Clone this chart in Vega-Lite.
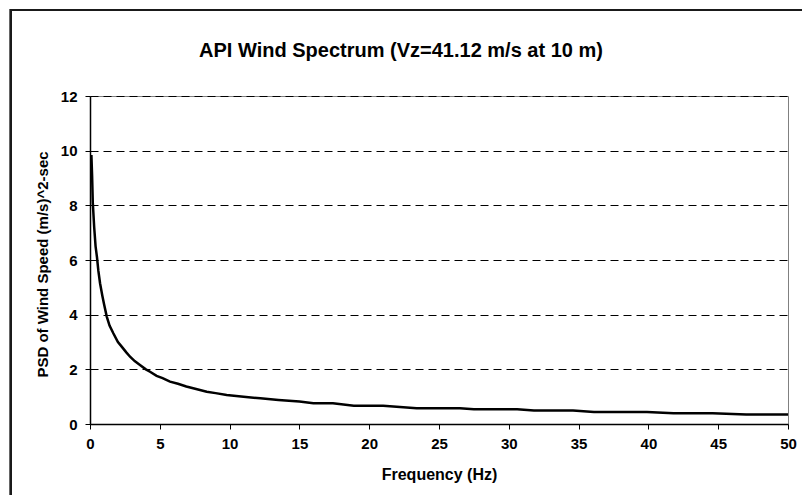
{
  "$schema": "https://vega.github.io/schema/vega-lite/v6.json",
  "autosize": {"type": "none"},
  "width": 698,
  "height": 328,
  "padding": {"left": 90, "top": 96, "right": 14, "bottom": 71},
  "background": "white",
  "config": {
    "font": "Liberation Sans",
    "view": {"stroke": "#808080", "strokeWidth": 1}
  },
  "title": {
    "text": "API Wind Spectrum (Vz=41.12 m/s at 10 m)",
    "font": "Liberation Sans",
    "fontSize": 20,
    "fontWeight": "bold",
    "color": "#000",
    "anchor": "middle",
    "frame": "group",
    "baseline": "bottom",
    "offset": -72,
    "dx": -38
  },
  "data": {
    "values": [
      {"f": 0.1, "psd": 9.84}, {"f": 0.15, "psd": 9.1}, {"f": 0.2, "psd": 8.1},
      {"f": 0.3, "psd": 7.2}, {"f": 0.4, "psd": 6.5}, {"f": 0.5, "psd": 6.1},
      {"f": 0.6, "psd": 5.6}, {"f": 0.72, "psd": 5.15}, {"f": 0.88, "psd": 4.7},
      {"f": 1.0, "psd": 4.4}, {"f": 1.2, "psd": 3.93}, {"f": 1.4, "psd": 3.6},
      {"f": 1.67, "psd": 3.32}, {"f": 2.0, "psd": 3.0}, {"f": 2.27, "psd": 2.83},
      {"f": 2.6, "psd": 2.62}, {"f": 2.87, "psd": 2.46}, {"f": 3.2, "psd": 2.3},
      {"f": 3.58, "psd": 2.16}, {"f": 4.0, "psd": 2.0}, {"f": 4.3, "psd": 1.91},
      {"f": 4.77, "psd": 1.76}, {"f": 5.2, "psd": 1.68}, {"f": 5.73, "psd": 1.55},
      {"f": 6.3, "psd": 1.47}, {"f": 6.9, "psd": 1.37}, {"f": 7.6, "psd": 1.28},
      {"f": 8.36, "psd": 1.18}, {"f": 9.0, "psd": 1.13}, {"f": 9.79, "psd": 1.06},
      {"f": 11.0, "psd": 1.0}, {"f": 12.2, "psd": 0.94}, {"f": 13.5, "psd": 0.88},
      {"f": 15.0, "psd": 0.82}, {"f": 16.0, "psd": 0.76}, {"f": 17.4, "psd": 0.76},
      {"f": 18.9, "psd": 0.67}, {"f": 21.0, "psd": 0.67}, {"f": 23.4, "psd": 0.58},
      {"f": 26.5, "psd": 0.58}, {"f": 27.5, "psd": 0.54}, {"f": 30.6, "psd": 0.54},
      {"f": 31.8, "psd": 0.49}, {"f": 34.6, "psd": 0.49}, {"f": 36.1, "psd": 0.44},
      {"f": 39.9, "psd": 0.44}, {"f": 41.8, "psd": 0.39}, {"f": 44.6, "psd": 0.39},
      {"f": 47.0, "psd": 0.35}, {"f": 50.0, "psd": 0.35}
    ]
  },
  "layer": [
    {
      "mark": {"type": "rect", "fill": null, "stroke": "#1a1a1a", "strokeWidth": 2, "clip": false},
      "encoding": {
        "x": {"datum": -5.66, "type": "quantitative", "scale": {"domain": [0, 50], "nice": false}},
        "x2": {"datum": 51.5},
        "y": {"datum": 15.15, "type": "quantitative", "scale": {"domain": [0, 12], "nice": false}},
        "y2": {"datum": -3}
      }
    },
    {
      "mark": {"type": "line", "color": "#000", "strokeWidth": 2.5, "interpolate": "linear"},
      "encoding": {
        "x": {
          "field": "f",
          "type": "quantitative",
          "scale": {"domain": [0, 50], "nice": false, "zero": false},
          "axis": {
            "title": "Frequency (Hz)",
            "values": [0, 5, 10, 15, 20, 25, 30, 35, 40, 45, 50],
            "grid": false,
            "domainColor": "#000",
            "domainWidth": 1.5,
            "tickColor": "#000",
            "tickSize": 5,
            "tickWidth": 1,
            "labelFont": "Liberation Sans",
            "labelFontSize": 15,
            "labelFontWeight": "bold",
            "labelColor": "#000",
            "labelPadding": 7,
            "labelFlush": false,
            "titleFont": "Liberation Sans",
            "titleFontSize": 16,
            "titleFontWeight": "bold",
            "titleColor": "#000",
            "titleBaseline": "middle",
            "titleY": 50
          }
        },
        "y": {
          "field": "psd",
          "type": "quantitative",
          "scale": {"domain": [0, 12], "nice": false},
          "axis": {
            "title": "PSD of Wind Speed (m/s)^2-sec",
            "values": [0, 2, 4, 6, 8, 10, 12],
            "grid": true,
            "gridColor": "#000",
            "gridDash": [8, 5],
            "gridWidth": 1,
            "domainColor": "#000",
            "domainWidth": 1.5,
            "tickColor": "#000",
            "tickSize": 5,
            "tickWidth": 1,
            "labelFont": "Liberation Sans",
            "labelFontSize": 15,
            "labelFontWeight": "bold",
            "labelColor": "#000",
            "labelPadding": 8,
            "titleFont": "Liberation Sans",
            "titleFontSize": 15,
            "titleFontWeight": "bold",
            "titleColor": "#000",
            "titleBaseline": "middle",
            "titleAngle": -90,
            "titleX": -48,
            "titleY": 168
          }
        }
      }
    }
  ]
}
